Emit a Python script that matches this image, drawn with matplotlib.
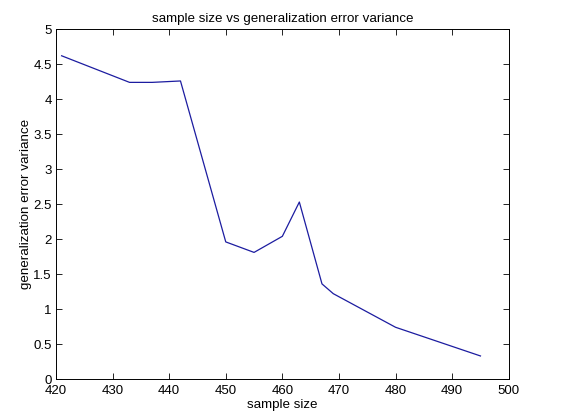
import matplotlib
matplotlib.use('Agg')
import matplotlib.pyplot as plt
from matplotlib.ticker import FuncFormatter

sample_size = [421, 433, 437, 442, 450, 455, 460, 463, 467, 469, 480, 495]
error_var = [4.62, 4.24, 4.24, 4.26, 1.96, 1.81, 2.04, 2.53, 1.36, 1.22, 0.74, 0.33]
xticks = list(range(420, 501, 10))
yticks = [0, 0.5, 1, 1.5, 2, 2.5, 3, 3.5, 4, 4.5, 5]

plt.rcParams['font.family'] = ['Liberation Sans', 'DejaVu Sans']

fig = plt.figure(figsize=(5.71, 4.17), dpi=100)
ax = fig.add_axes([0.098, 0.091, 0.793, 0.839])
ax.plot(sample_size, error_var, color='#1c1ca0', linewidth=0.9)
ax.set_xlim(420, 500)
ax.set_ylim(0, 5)
ax.set_xticks(xticks)
ax.set_yticks(yticks)
ax.yaxis.set_major_formatter(FuncFormatter(lambda v, p: '%g' % v))
ax.tick_params(direction='in', top=True, right=True, length=4, width=0.6,
               labelsize=9.5)
ax.tick_params(axis='x', pad=4.5)
ax.tick_params(axis='y', pad=3)
for s in ax.spines.values():
    s.set_linewidth(0.7)
ax.set_title('sample size vs generalization error variance', fontsize=9.6, pad=5)
ax.set_xlabel('sample size', fontsize=9.6, labelpad=1)
ax.set_ylabel('generalization error variance', fontsize=9.6, labelpad=1)
fig.savefig('out.png', dpi=100)
